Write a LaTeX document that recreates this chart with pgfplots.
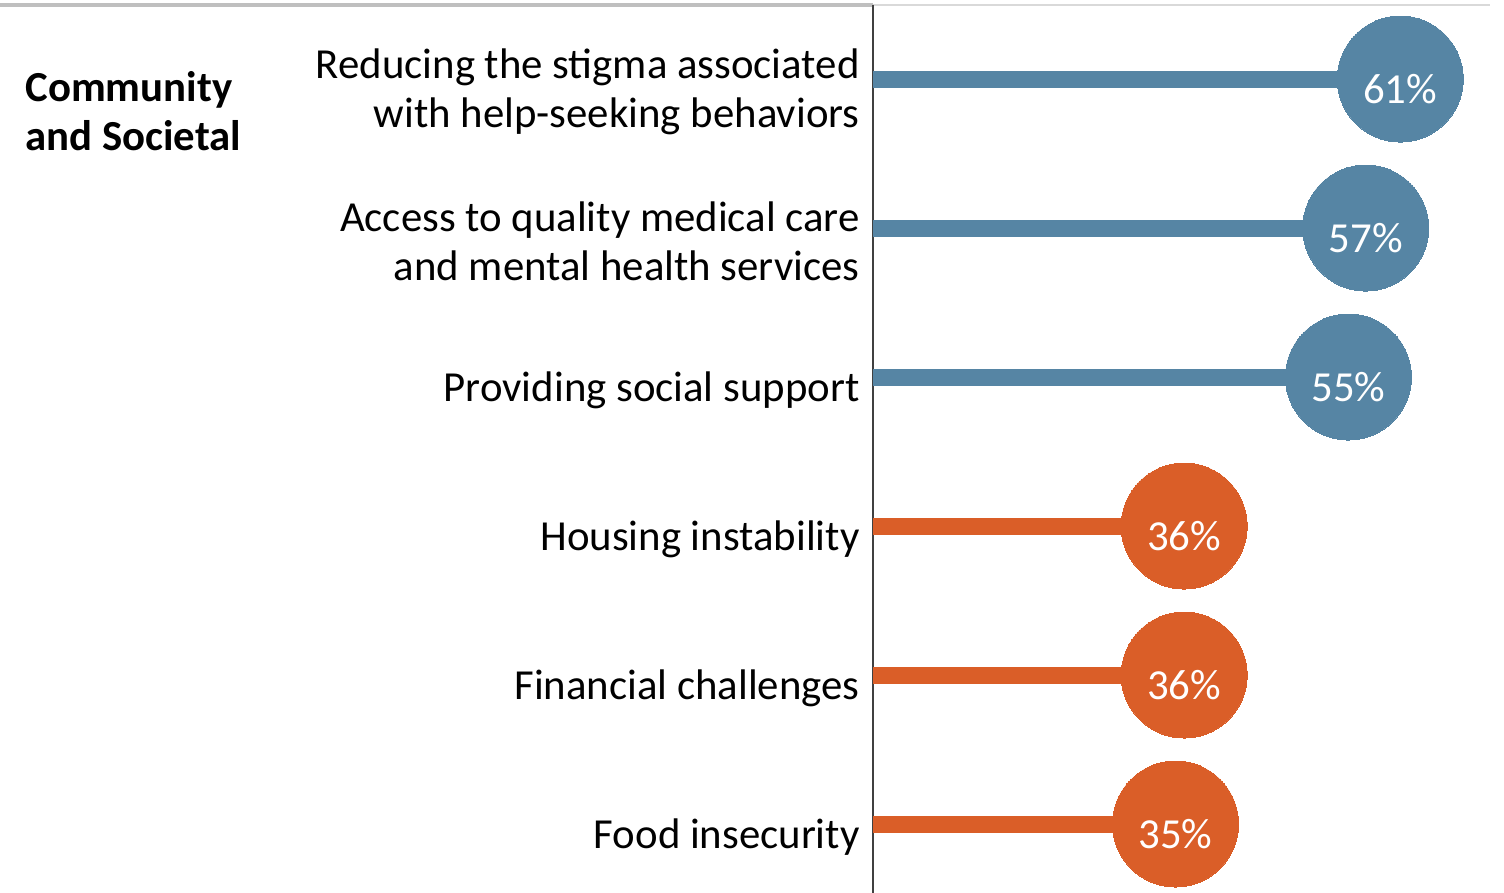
\documentclass[border=0pt]{standalone}
\usepackage{fontspec}
\setmainfont{Carlito}
\usepackage{pgfplots}
\pgfplotsset{compat=1.18}
\definecolor{cblue}{RGB}{86,133,164}
\definecolor{corange}{RGB}{218,94,40}
\begin{document}
\begin{tikzpicture}
\path[use as bounding box] (0,0) rectangle (752pt,446.5pt);
\draw[line width=2pt, color=black!25] (0,444pt) -- (436.5pt,444pt);
\draw[line width=1pt, color=black!15] (436.5pt,444pt) -- (745pt,444pt);
\begin{axis}[
  at={(436.5pt,0pt)}, anchor=south west,
  width=315.5pt, height=444pt, scale only axis,
  xmin=0, xmax=73, ymin=-0.497, ymax=5.463, y dir=reverse,
  axis x line=none, axis y line=left,
  axis line style={-, draw=black!75, line width=0.6pt},
  ytick={0,1,2,3,4,5},
  yticklabels={{Reducing the stigma associated\\with help-seeking behaviors},
    {Access to quality medical care\\and mental health services},
    {Providing social support},{Housing instability},{Financial challenges},{Food insecurity}},
  yticklabel style={align=right, anchor=east, inner sep=0pt, xshift=-6.5pt, yshift=-6.5pt,
    font=\fontsize{21.4}{24.5}\selectfont},
  major tick length=0pt,
  clip=false,
  /pgf/number format/assume math mode=true,
  point meta=x,
  nodes near coords={\pgfmathprintnumber{\pgfplotspointmeta}\%},
  nodes near coords style={anchor=center, text=white, yshift=-5pt,
    font=\fontsize{21.4}{24.5}\selectfont},
]
\addplot[xcomb, color=cblue, line width=8.5pt, mark=*, mark size=31.5pt,
  mark options={solid, line width=0pt, draw=none, fill=cblue}] coordinates {(61,0) (57,1) (55,2)};
\addplot[xcomb, color=corange, line width=8.5pt, mark=*, mark size=31.5pt,
  mark options={solid, line width=0pt, draw=none, fill=corange}] coordinates {(36,3) (36,4) (35,5)};
\end{axis}
\node[anchor=west, align=left, inner sep=0pt, font=\bfseries\fontsize{21.4}{24.5}\selectfont]
  at (12.5pt,390.75pt) {Community\\and Societal};
\end{tikzpicture}
\end{document}
